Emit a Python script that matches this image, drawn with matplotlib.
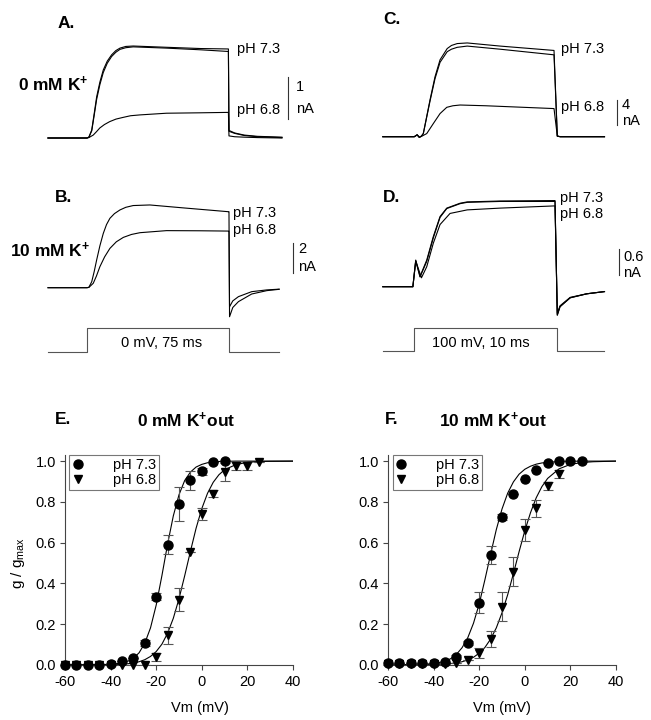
import matplotlib
matplotlib.use("Agg")
import matplotlib.pyplot as plt

plt.rcParams['font.family'] = ['Liberation Sans', 'DejaVu Sans']
plt.rcParams['mathtext.fontset'] = 'custom'
plt.rcParams['mathtext.rm'] = 'Liberation Sans'
plt.rcParams['mathtext.bf'] = 'Liberation Sans:bold'
plt.rcParams['mathtext.it'] = 'Liberation Sans:italic'
plt.rcParams['axes.unicode_minus'] = False

W, H = 651, 720

# ---------- current traces: time (ms from step onset), current (nA) ----------
a73a_t = [-20.6, 0, 1, 2.5, 3.8, 5.1, 6.8, 8.6, 10.7, 13, 15.2, 17.4, 20.5, 24.4, 42, 60, 74.7,
          75, 78, 83, 90, 103]
a73a_i = [0, 0, 0.02, 0.19, 0.58, 0.98, 1.33, 1.62, 1.83, 1.98, 2.08, 2.14, 2.18, 2.19, 2.16, 2.13, 2.12,
          0.18, 0.12, 0.07, 0.04, 0.02]
a73b_t = [-20.6, 0, 1, 2.5, 3.8, 5.1, 6.8, 8.6, 10.7, 13, 15.2, 17.4, 20.5, 24.4, 42, 60, 74.7,
          75, 78, 83, 90, 103]
a73b_i = [0, 0, 0.02, 0.17, 0.54, 0.92, 1.27, 1.56, 1.78, 1.94, 2.04, 2.11, 2.15, 2.17, 2.14, 2.10, 2.06,
          0.16, 0.11, 0.06, 0.03, 0.01]
a68_t = [-20.6, 0, 1, 3.3, 5, 6.8, 9.2, 12, 15.3, 19, 23, 28, 42, 60, 74.7, 75, 78, 83, 90, 103]
a68_i = [0, 0, 0.01, 0.07, 0.15, 0.24, 0.32, 0.39, 0.45, 0.49, 0.53, 0.55, 0.59, 0.60, 0.61,
         0.05, 0.03, 0.02, 0.01, 0]

b73_t = [-20.6, 0, 1, 2.5, 3.8, 5.1, 6.8, 8.6, 10.3, 12.1, 14.5, 17.4, 20.5, 24.4, 33.2, 50, 74.7,
         75, 75.3, 77, 80, 87, 95, 101.5]
b73_i = [0, 0, 0.03, 0.41, 1.1, 1.89, 2.85, 3.7, 4.3, 4.73, 5.05, 5.3, 5.48, 5.6, 5.64, 5.45, 5.18,
         5.18, -1.98, -1.35, -0.95, -0.43, -0.2, -0.11]
b68_t = [-20.6, 0, 1, 3.3, 5, 6.8, 9.3, 12.1, 15.5, 19.2, 23.5, 28, 42, 60, 74.7,
         75, 75.3, 77, 80, 87, 95, 101.5]
b68_i = [0, 0, 0.02, 0.3, 0.8, 1.43, 2.1, 2.68, 3.13, 3.43, 3.63, 3.75, 3.89, 3.88, 3.86,
         3.86, -1.3, -0.9, -0.61, -0.27, -0.15, -0.1]

c73a_t = [-2.2, 0, 0.2, 0.35, 0.5, 0.63, 1.1, 1.45, 1.8, 2.3, 2.6, 3.0, 3.7, 6, 9.77, 10.0, 10.2, 13.3]
c73a_i = [0, 0, 0.3, -0.1, 0.1, 0.5, 5.9, 9.6, 12.3, 14.1, 14.6, 14.9, 15.0, 14.5, 13.8, 0.1, 0, 0]
c73b_t = [-2.2, 0, 0.2, 0.35, 0.5, 0.63, 1.1, 1.45, 1.8, 2.3, 2.6, 3.0, 3.7, 6, 9.77, 10.0, 10.2, 13.3]
c73b_i = [0, 0, 0.3, -0.1, 0.1, 0.5, 5.7, 9.3, 11.9, 13.6, 14.0, 14.3, 14.5, 14.0, 13.1, 0.1, 0, 0]
c68_t = [-2.2, 0, 0.2, 0.35, 0.5, 0.87, 1.33, 1.8, 2.27, 2.7, 3.2, 5, 9.77, 10.0, 10.2, 13.3]
c68_i = [0, 0, 0.3, -0.1, 0.05, 0.5, 2.1, 3.7, 4.7, 4.95, 5.07, 4.95, 4.5, 0.1, 0, 0]

d73a_t = [-2.2, -0.1, 0.1, 0.4, 0.87, 1.33, 1.8, 2.27, 3.2, 3.7, 6, 9.84, 10.0, 10.19, 10.9, 12.06, 13.3]
d73a_i = [0, 0, 0.6, 0.23, 0.6, 1.13, 1.58, 1.77, 1.88, 1.91, 1.93, 1.94, -0.64, -0.45, -0.25, -0.16, -0.11]
d73b_t = [-2.2, -0.1, 0.1, 0.4, 0.87, 1.33, 1.8, 2.27, 3.2, 3.7, 6, 9.84, 10.0, 10.19, 10.9, 12.06, 13.3]
d73b_i = [0, 0, 0.58, 0.22, 0.57, 1.1, 1.56, 1.76, 1.87, 1.9, 1.92, 1.92, -0.64, -0.45, -0.25, -0.16, -0.11]
d68_t = [-2.2, -0.1, 0.1, 0.5, 0.87, 1.33, 1.8, 2.5, 3.7, 6, 9.84, 10.0, 10.19, 10.9, 12.06, 13.3]
d68_i = [0, 0, 0.58, 0.2, 0.45, 0.98, 1.4, 1.65, 1.73, 1.77, 1.82, -0.6, -0.43, -0.24, -0.16, -0.11]

# voltage protocols (ms, mV)
prot_ab_t = [-20.6, 0, 0, 75, 75, 101.5]
prot_ab_v = [-80, -80, 0, 0, -80, -80]
prot_cd_t = [-2.2, 0, 0, 10, 10, 13.3]
prot_cd_v = [-80, -80, 100, 100, -80, -80]

# ---------- g/gmax vs Vm ----------
vm = [-60, -55, -50, -45, -40, -35, -30, -25, -20, -15, -10, -5, 0, 5, 10, 15, 20, 25]

e73_g = [0, 0, 0, 0, 0.005, 0.02, 0.035, 0.11, 0.335, 0.59, 0.79, 0.905, 0.95, 0.995, 1.0]
e73_err = [0, 0, 0, 0, 0, 0, 0, 0.015, 0.018, 0.047, 0.083, 0.045, 0.017, 0, 0]
e68_g = [0, 0, 0, 0, 0, 0, 0, 0, 0.04, 0.145, 0.32, 0.555, 0.74, 0.84, 0.948, 0.975, 0.975, 0.997]
e68_err = [0, 0, 0, 0, 0, 0, 0, 0, 0.02, 0.043, 0.057, 0, 0.03, 0.018, 0.045, 0.02, 0.02, 0]

f73_g = [0.011, 0.011, 0.012, 0.01, 0.01, 0.015, 0.041, 0.109, 0.306, 0.539, 0.727, 0.841, 0.91, 0.956, 0.989, 1.0, 1.0, 1.0]
f73_err = [0, 0, 0, 0, 0, 0, 0.01, 0.01, 0.05, 0.045, 0.015, 0, 0, 0, 0, 0, 0, 0]
f68_g = [0.005, 0.005, 0.005, 0.005, 0.005, 0.005, 0.01, 0.025, 0.06, 0.126, 0.286, 0.458, 0.662, 0.768, 0.877, 0.935]
f68_err = [0, 0, 0, 0, 0, 0, 0, 0, 0.025, 0.04, 0.07, 0.07, 0.054, 0.04, 0.02, 0.02]

# fitted Boltzmann curves
fit_v = [-60, -40, -35, -32.5, -30, -27.5, -25, -22.5, -20, -17.5, -15, -12.5, -10,
         -7.5, -5, -2.5, 0, 2.5, 5, 7.5, 10, 15, 20, 25, 30, 40]
e73_fit = [0, 0.003, 0.01, 0.018, 0.033, 0.06, 0.107, 0.182, 0.294, 0.438, 0.593, 0.731, 0.835,
           0.905, 0.946, 0.971, 0.984, 0.992, 0.996, 0.998, 0.999, 1.0, 1.0, 1.0, 1.0, 1.0]
e68_fit = [0, 0.0015, 0.004, 0.006, 0.01, 0.016, 0.026, 0.042, 0.066, 0.102, 0.156, 0.229, 0.325,
           0.438, 0.557, 0.671, 0.767, 0.842, 0.896, 0.933, 0.958, 0.983, 0.994, 0.998, 0.999, 1.0]
f73_fit = [0, 0.006, 0.018, 0.031, 0.052, 0.085, 0.134, 0.205, 0.3, 0.418, 0.543, 0.664, 0.765,
           0.843, 0.898, 0.936, 0.96, 0.975, 0.985, 0.991, 0.994, 0.998, 0.999, 1.0, 1.0, 1.0]
f68_fit = [0, 0.002, 0.005, 0.007, 0.011, 0.016, 0.025, 0.038, 0.058, 0.086, 0.127, 0.182, 0.256,
           0.345, 0.448, 0.556, 0.658, 0.747, 0.82, 0.875, 0.915, 0.962, 0.984, 0.993, 0.997, 1.0]


def fpos(x, y):
    return x / W, 1 - y / H


def px_axes(fig, x0, x1, y0, y1, t0px, pxms, i0px, pxna):
    # axes over a pixel box; data in ms and nA (or mV)
    ax = fig.add_axes([x0 / W, 1 - y1 / H, (x1 - x0) / W, (y1 - y0) / H])
    ax.set_xlim((x0 - t0px) / pxms, (x1 - t0px) / pxms)
    ax.set_ylim((i0px - y1) / pxna, (i0px - y0) / pxna)
    ax.axis('off')
    ax.patch.set_alpha(0)
    return ax


fig = plt.figure(figsize=(W / 100, H / 100), dpi=100)
lw = 0.8
ts = 10.5
bs = 12.5

# Panel A
ax = px_axes(fig, 0, 325, 0, 150, 87, 1.893, 138, 42)
ax.plot(a73a_t, a73a_i, color='black', lw=lw)
ax.plot(a73b_t, a73b_i, color='black', lw=lw)
ax.plot(a68_t, a68_i, color='black', lw=lw)
ax.plot([106.2, 106.2], [0.45, 1.45], color='#333333', lw=lw)

# Panel B
ax = px_axes(fig, 0, 325, 150, 320, 87, 1.893, 287.7, 14.67)
ax.plot(b73_t, b73_i, color='black', lw=lw)
ax.plot(b68_t, b68_i, color='black', lw=lw)
ax.plot([108.8, 108.8], [1.02, 3.02], color='#333333', lw=lw)

# Panel C
ax = px_axes(fig, 330, 651, 0, 150, 414.3, 14.3, 136.7, 6.25)
ax.plot(c73a_t, c73a_i, color='black', lw=lw)
ax.plot(c73b_t, c73b_i, color='black', lw=lw)
ax.plot(c68_t, c68_i, color='black', lw=lw)
ax.plot([14.15, 14.15], [1.87, 5.87], color='#333333', lw=lw)

# Panel D
ax = px_axes(fig, 330, 651, 150, 320, 414.3, 14.3, 286.7, 44.4)
ax.plot(d73a_t, d73a_i, color='black', lw=lw)
ax.plot(d73b_t, d73b_i, color='black', lw=lw)
ax.plot(d68_t, d68_i, color='black', lw=lw)
ax.plot([14.3, 14.3], [0.26, 0.86], color='#333333', lw=lw)

# protocols
ax = px_axes(fig, 0, 325, 310, 370, 87, 1.893, 327.7, 0.3)
ax.plot(prot_ab_t, prot_ab_v, color='#555555', lw=lw)
ax = px_axes(fig, 330, 651, 310, 370, 414.3, 14.3, 340.8, 23 / 180)
ax.plot(prot_cd_t, prot_cd_v, color='#555555', lw=lw)

fig.text(*fpos(58, 23), 'A.', fontsize=bs, fontweight='bold', va='center')
fig.text(*fpos(55, 197), 'B.', fontsize=bs, fontweight='bold', va='center')
fig.text(*fpos(383, 20), 'C.', fontsize=bs, fontweight='bold', va='center')
fig.text(*fpos(383, 197), 'D.', fontsize=bs, fontweight='bold', va='center')
fig.text(*fpos(18, 84), r'0 mM K$^{\mathbf{+}}$', fontsize=bs, fontweight='bold', va='center')
fig.text(*fpos(10, 250), r'10 mM K$^{\mathbf{+}}$', fontsize=bs, fontweight='bold', va='center')

for x, y, s in [(237, 49, 'pH 7.3'), (237, 110, 'pH 6.8'), (296, 87, '1'), (296, 109, 'nA'),
                (233, 213, 'pH 7.3'), (233, 230, 'pH 6.8'), (298, 249, '2'), (298, 267, 'nA'),
                (561, 49, 'pH 7.3'), (561, 107, 'pH 6.8'), (622, 105, '4'), (622, 121, 'nA'),
                (560, 198, 'pH 7.3'), (560, 214, 'pH 6.8'), (623, 257, '0.6'), (623, 273, 'nA')]:
    fig.text(*fpos(x, y), s, fontsize=ts, va='center')

fig.text(*fpos(161.7, 343), '0 mV, 75 ms', fontsize=ts, ha='center', va='center')
fig.text(*fpos(480.5, 343), '100 mV, 10 ms', fontsize=ts, ha='center', va='center')


# ---------- bottom panels ----------
def gv_panel(x0, g73, err73, g68, err68, fit73, fit68, leg_left):
    ax = fig.add_axes([x0 / W, 55 / H, 228 / W, 210 / H])
    ax.plot(fit_v, fit73, color='black', lw=0.8, zorder=2)
    ax.plot(fit_v, fit68, color='black', lw=0.8, zorder=2)
    n73, n68 = len(g73), len(g68)
    ax.errorbar(vm[:n68], g68, yerr=err68, fmt='none', ecolor='#555555',
                elinewidth=0.8, capsize=3.5, capthick=0.8, zorder=3)
    ax.errorbar(vm[:n73], g73, yerr=err73, fmt='none', ecolor='#555555',
                elinewidth=0.8, capsize=3.5, capthick=0.8, zorder=3)
    h68, = ax.plot(vm[:n68], g68, 'v', color='black', ms=6, clip_on=False, zorder=4)
    h73, = ax.plot(vm[:n73], g73, 'o', color='black', ms=6.5, clip_on=False, zorder=5)
    ax.set_xlim(-60, 40)
    ax.set_ylim(0, 1.03)
    ax.set_xticks([-60, -40, -20, 0, 20, 40])
    ax.set_yticks([0, 0.2, 0.4, 0.6, 0.8, 1.0])
    ax.set_yticklabels(['0.0', '0.2', '0.4', '0.6', '0.8', '1.0'])
    for s in ['top', 'right']:
        ax.spines[s].set_visible(False)
    for s in ['left', 'bottom']:
        ax.spines[s].set_color('#444444')
        ax.spines[s].set_linewidth(0.8)
    ax.tick_params(direction='out', length=3.5, width=0.8, color='#444444', labelsize=ts)
    ax.tick_params(axis='x', pad=4)
    ax.tick_params(axis='y', pad=3)
    leg = ax.legend([h73, h68], ['pH 7.3', 'pH 6.8'], loc='upper left',
                    bbox_to_anchor=(leg_left, 0.998), borderaxespad=0, fontsize=ts,
                    fancybox=False, edgecolor='#777777', handlelength=0.8,
                    handletextpad=2.0, borderpad=0.2, labelspacing=0.05, framealpha=1)
    leg.get_frame().set_linewidth(0.8)
    return ax


gv_panel(65, e73_g, e73_err, e68_g, e68_err, e73_fit, e68_fit, 0.018)
gv_panel(388, f73_g, f73_err, f68_g, f68_err, f73_fit, f68_fit, 0.02)

fig.text(*fpos(55, 420), 'E.', fontsize=bs, fontweight='bold', va='center')
fig.text(*fpos(186, 420), r'0 mM K$^{\mathbf{+}}$out', fontsize=bs, fontweight='bold',
         ha='center', va='center')
fig.text(*fpos(385, 420), 'F.', fontsize=bs, fontweight='bold', va='center')
fig.text(*fpos(493, 420), r'10 mM K$^{\mathbf{+}}$out', fontsize=bs, fontweight='bold',
         ha='center', va='center')
fig.text(*fpos(18, 563), r'g / g$_{\mathrm{max}}$', fontsize=11, rotation=90,
         ha='center', va='center')
fig.text(*fpos(200, 708), 'Vm (mV)', fontsize=ts, ha='center', va='center')
fig.text(*fpos(502, 708), 'Vm (mV)', fontsize=ts, ha='center', va='center')

fig.savefig('out.png', dpi=100)
